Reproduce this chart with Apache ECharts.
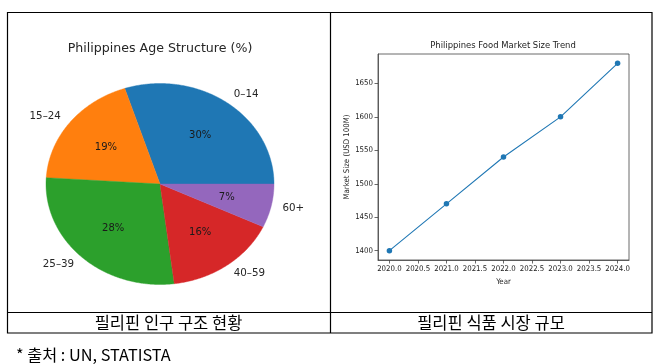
<!DOCTYPE html>
<html><head><meta charset="utf-8">
<script src="https://cdn.jsdelivr.net/npm/echarts@6/dist/echarts.min.js"></script>
<style>html,body{margin:0;padding:0;background:#fff}#c{width:660px;height:364px}</style>
</head><body><div id="c"></div>
<script>
const ageGroups = ['0–14', '15–24', '25–39', '40–59', '60+'];
const agePercent = [30, 19, 28, 16, 7];
const pieColors = ['#1f77b4', '#ff7f0e', '#2ca02c', '#d62728', '#9467bd'];
const years = [2020, 2021, 2022, 2023, 2024];
const marketSize = [1400, 1470, 1540, 1600, 1680];
const yTickValues = [1400, 1450, 1500, 1550, 1600, 1650];
const xTickValues = [2020, 2020.5, 2021, 2021.5, 2022, 2022.5, 2023, 2023.5, 2024];

const PIE = { cx: 160, cy: 184, rx: 114, ry: 100.5 };
const total = agePercent.reduce((a, b) => a + b, 0);

function renderSlice(params, api) {
  const i = params.dataIndex;
  let before = 0;
  for (let j = 0; j < i; j++) before += agePercent[j];
  const v = api.value(0);
  const a0 = before / total * Math.PI * 2;
  const a1 = (before + v) / total * Math.PI * 2;
  const pts = [[PIE.cx, PIE.cy]];
  const n = Math.max(10, Math.ceil((a1 - a0) / 0.01));
  for (let k = 0; k <= n; k++) {
    const a = a0 + (a1 - a0) * k / n;
    pts.push([PIE.cx + PIE.rx * Math.cos(a), PIE.cy - PIE.ry * Math.sin(a)]);
  }
  const am = (a0 + a1) / 2;
  const lx = PIE.cx + 1.1 * PIE.rx * Math.cos(am);
  const ly = PIE.cy - 1.1 * PIE.ry * Math.sin(am);
  return {
    type: 'group',
    children: [
      { type: 'polygon', shape: { points: pts }, style: { fill: pieColors[i], stroke: pieColors[i], lineWidth: 0.4 } },
      { type: 'text', x: PIE.cx + 0.6 * PIE.rx * Math.cos(am), y: PIE.cy - 0.6 * PIE.ry * Math.sin(am),
        style: { text: Math.round(v) + '%', align: 'center', verticalAlign: 'middle', fill: '#1a1a1a',
          fontFamily: 'DejaVu Sans', fontSize: 10 } },
      { type: 'text', x: lx, y: ly,
        style: { text: ageGroups[i], align: Math.cos(am) > 0 ? 'left' : 'right', verticalAlign: 'middle',
          fill: '#262626', fontFamily: 'DejaVu Sans', fontSize: 10.3 } }
    ]
  };
}

const chart = echarts.init(document.getElementById('c'), null, { renderer: 'canvas' });
const smallFont = { fontFamily: 'DejaVu Sans Condensed', fontSize: 7.8, color: '#222' };

chart.setOption({
  backgroundColor: '#fff',
  animation: false,
  grid: { left: 378, top: 54, width: 251, height: 206, show: true, borderColor: '#444', borderWidth: 0.8, backgroundColor: 'transparent' },
  xAxis: {
    type: 'value', min: 2019.8, max: 2024.2,
    name: 'Year', nameLocation: 'middle', nameGap: 14,
    nameTextStyle: smallFont,
    axisLine: { show: true, lineStyle: { color: '#444', width: 0.8 } },
    axisTick: { show: true, length: 3.5, customValues: xTickValues, lineStyle: { color: '#444', width: 0.8 } },
    axisLabel: { customValues: xTickValues, formatter: v => v.toFixed(1), margin: 5, ...smallFont },
    splitLine: { show: false }
  },
  yAxis: {
    type: 'value', min: 1386, max: 1694,
    name: 'Market Size (USD 100M)', nameLocation: 'middle', nameGap: 27,
    nameTextStyle: smallFont,
    axisLine: { show: true, lineStyle: { color: '#444', width: 0.8 } },
    axisTick: { show: true, length: 3.5, customValues: yTickValues, lineStyle: { color: '#444', width: 0.8 } },
    axisLabel: { customValues: yTickValues, formatter: v => String(v), margin: 5, ...smallFont },
    splitLine: { show: false }
  },
  series: [
    {
      type: 'custom', coordinateSystem: 'none', renderItem: renderSlice,
      data: agePercent.map((v, i) => ({ name: ageGroups[i], value: v }))
    },
    {
      type: 'line', data: years.map((y, i) => [y, marketSize[i]]),
      symbol: 'circle', symbolSize: 5.5,
      lineStyle: { color: '#1f77b4', width: 1.1 },
      itemStyle: { color: '#1f77b4' }
    }
  ],
  graphic: [
    { type: 'rect', shape: { x: 7.5, y: 12.5, width: 644.5, height: 320.5 }, style: { fill: 'none', stroke: '#000', lineWidth: 1.2 } },
    { type: 'line', shape: { x1: 330.5, y1: 12.5, x2: 330.5, y2: 333 }, style: { stroke: '#000', lineWidth: 1.2 } },
    { type: 'line', shape: { x1: 7.5, y1: 312.5, x2: 652, y2: 312.5 }, style: { stroke: '#000', lineWidth: 1.2 } },
    { type: 'text', x: 160, y: 49, style: { text: 'Philippines Age Structure (%)', align: 'center', verticalAlign: 'middle', fill: '#262626', fontFamily: 'DejaVu Sans', fontSize: 12.6 } },
    { type: 'text', x: 503, y: 46, style: { text: 'Philippines Food Market Size Trend', align: 'center', verticalAlign: 'middle', fill: '#222', fontFamily: 'DejaVu Sans Condensed', fontSize: 9.4 } },
    { type: 'text', x: 168.5, y: 323, style: { text: '필리핀 인구 구조 현황', align: 'center', verticalAlign: 'middle', fill: '#000', fontFamily: 'Noto Sans CJK KR', fontSize: 16.5 } },
    { type: 'text', x: 491, y: 323, style: { text: '필리핀 식품 시장 규모', align: 'center', verticalAlign: 'middle', fill: '#000', fontFamily: 'Noto Sans CJK KR', fontSize: 16.5 } },
    { type: 'text', x: 16, y: 355, style: { text: '* 출처 : UN, STATISTA', align: 'left', verticalAlign: 'middle', fill: '#000', fontFamily: 'Noto Sans CJK KR', fontSize: 16.3 } }
  ]
});
</script></body></html>
